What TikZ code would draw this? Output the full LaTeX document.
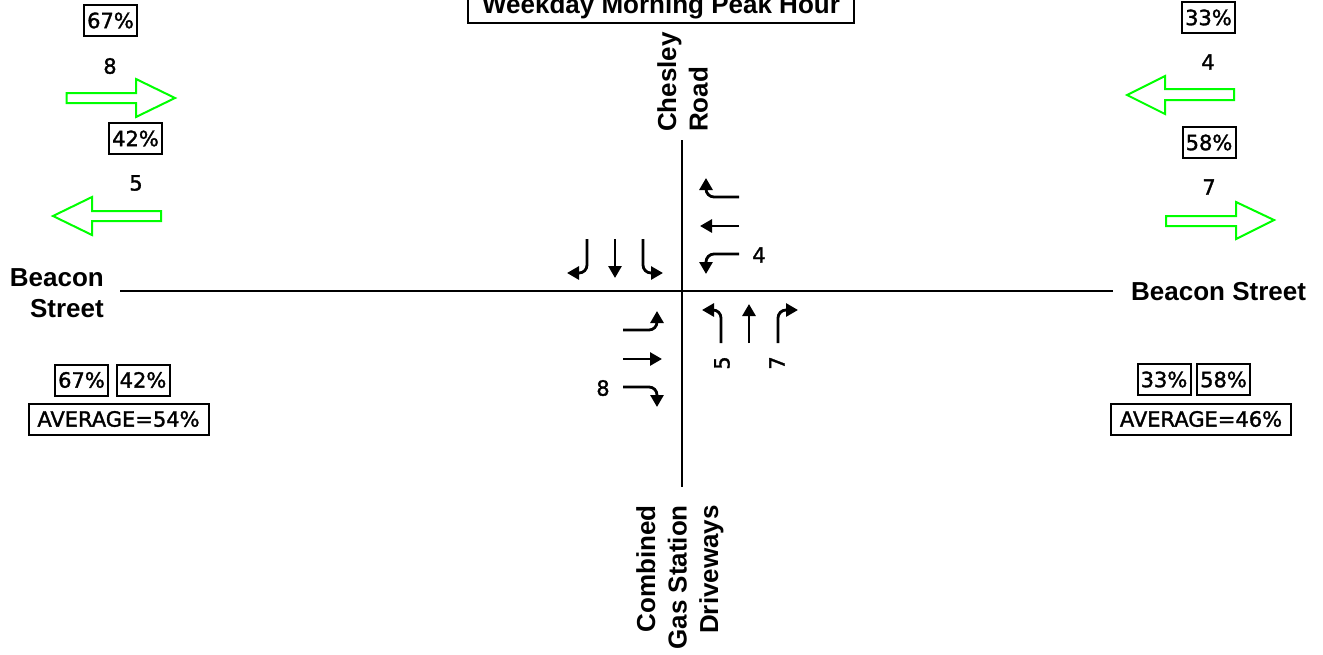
\documentclass[tikz,border=0pt]{standalone}
\usepackage{fontspec}
\setmainfont{Liberation Sans}
\newfontfamily\pctfont[FakeBold=1.5]{DejaVu Sans}
\usetikzlibrary{arrows.meta}
\definecolor{flowgreen}{RGB}{0,255,0}
\tikzset{
  road/.style={line width=2.7pt},
  mv/.style={line width=2.8pt, rounded corners=8pt, -{Triangle[length=12pt,width=13pt]}},
  flow/.style={draw=flowgreen, line width=2pt, line join=miter},
  street/.style={font=\bfseries\fontsize{26}{31.5}\selectfont, inner sep=0pt},
  num/.style={font=\pctfont\fontsize{21}{25}\selectfont, inner sep=0pt},
  pbox/.style={draw, line width=2pt, font=\pctfont\fontsize{21}{25}\selectfont, inner xsep=3pt, inner ysep=0pt, minimum height=31pt, minimum width=53pt},
  avgbox/.style={pbox, minimum width=180pt}
}
\begin{document}
\begin{tikzpicture}[x=1pt,y=-1pt]
\useasboundingbox (0,0) rectangle (1323,654);
% title
\node[street, anchor=base] (title) at (661,13) {Weekday Morning Peak Hour};
\draw[line width=2pt] (468,-6) rectangle (854,22.5);
% roads
\coordinate (nend) at (682,140);
\coordinate (send) at (682,487);
\coordinate (wend) at (120,291);
\coordinate (eend) at (1113,291);
\draw[road] (nend) -- (send);
\draw[road] (wend) -- (eend);
% street names
\node[street, rotate=90, anchor=west, align=left] (chesley) at (682.5,132) {Chesley\\Road};
\node[street, rotate=90, anchor=east, align=right] (gas) at (680,505) {Combined\\Gas Station\\Driveways};
\node[street, anchor=east, align=right] (beaconw) at (104,293) {Beacon\\Street};
\node[street, anchor=base west] (beacone) at (1131,300) {Beacon Street};
% green flow arrows
\draw[flow] (66.7,93) -- (136,93) -- (136,79) -- (175,98) -- (136,117) -- (136,103) -- (66.7,103) -- cycle;
\draw[flow] (161,211) -- (92,211) -- (92,197) -- (53,216) -- (92,235) -- (92,221) -- (161,221) -- cycle;
\draw[flow] (1234,89) -- (1165,89) -- (1165,76) -- (1127,95) -- (1165,114) -- (1165,100) -- (1234,100) -- cycle;
\draw[flow] (1166,216) -- (1236,216) -- (1236,202) -- (1274,220) -- (1236,239) -- (1236,226) -- (1166,226) -- cycle;
% flow numbers
\node[num] (n8w) at (110,66) {8};
\node[num] (n5w) at (136,183) {5};
\node[num] (n4e) at (1208,62) {4};
\node[num] (n7e) at (1209,187) {7};
% percent boxes top
\node[pbox] (p67a) at (110.5,20.5) {67\%};
\node[pbox] (p42a) at (135.5,138.5) {42\%};
\node[pbox] (p33a) at (1208.5,17.5) {33\%};
\node[pbox] (p58a) at (1209,142.5) {58\%};
% percent boxes bottom
\node[pbox] (p67b) at (81.5,380) {67\%};
\node[pbox] (p42b) at (143,380) {42\%};
\node[avgbox] (avgw) at (118.5,419) {AVERAGE=54\%};
\node[pbox] (p33b) at (1164,379.5) {33\%};
\node[pbox] (p58b) at (1223.5,379.5) {58\%};
\node[avgbox] (avge) at (1201,419) {AVERAGE=46\%};
% southbound movements
\draw[mv] (587,239) |- (567,273);
\draw[mv] (615,239) -- (615,278);
\draw[mv] (643,239) |- (663,273);
% westbound movements
\draw[mv] (739,197) -| (706,178);
\draw[mv] (739,226) -- (700,226);
\draw[mv] (739,254) -| (706,274);
\node[num] (m4) at (759,255) {4};
% northbound movements
\draw[mv] (721,343) |- (702,310);
\draw[mv] (749,343) -- (749,304);
\draw[mv] (778,343) |- (798,310);
\node[num, rotate=90] (m5) at (722,363) {5};
\node[num, rotate=90] (m7) at (777,363) {7};
% eastbound movements
\draw[mv] (623,330) -| (657,311);
\draw[mv] (623,359) -- (662,359);
\draw[mv] (623,387) -| (657,407);
\node[num] (m8) at (603,388) {8};
\end{tikzpicture}
\end{document}
